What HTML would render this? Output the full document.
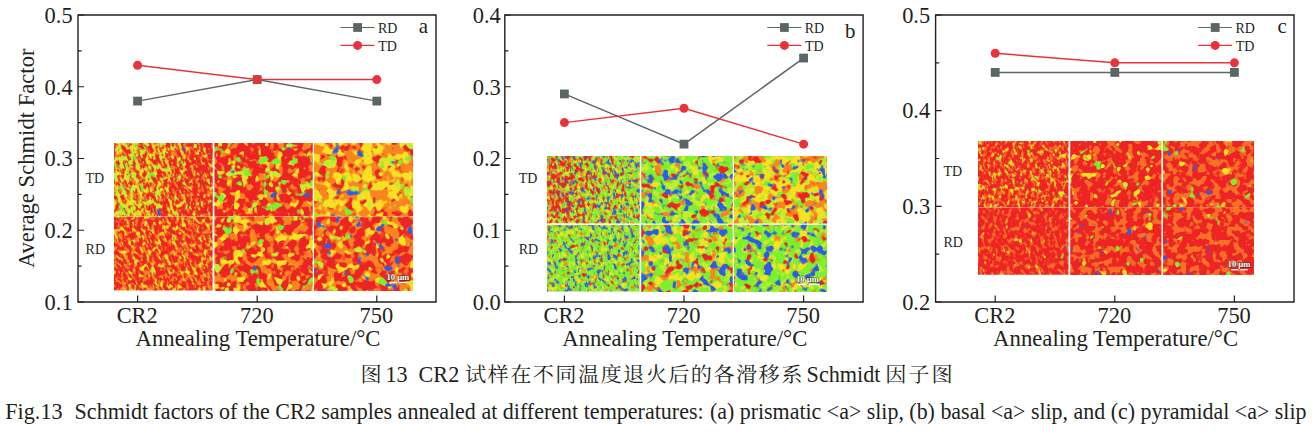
<!DOCTYPE html>
<html lang="zh"><head><meta charset="utf-8"><title>Fig.13 Schmidt factors</title>
<style>
html,body{margin:0;padding:0;background:#fff}
svg{display:block}
text{font-family:"Liberation Serif","Noto Serif CJK SC",serif;fill:#231f20}
.t22{font-size:23.8px}
.t14{font-size:14.8px}
.t21{font-size:21.6px}
.cn{font-size:20.6px}
.cap{font-size:23.5px}
</style></head><body>
<svg width="1313" height="432" viewBox="0 0 1313 432">
<defs>
<filter id="fa000" x="0" y="0" width="1" height="1" color-interpolation-filters="sRGB">
<feTurbulence type="fractalNoise" baseFrequency="0.28 0.16" numOctaves="2" seed="19" result="t0"/>
<feTurbulence type="fractalNoise" baseFrequency="0.168 0.096" numOctaves="2" seed="24" result="t1"/>
<feTurbulence type="fractalNoise" baseFrequency="0.112 0.064" numOctaves="2" seed="29" result="t2"/>
<feFlood flood-color="rgb(238,36,36)" result="b"/>
<feColorMatrix in="t0" type="matrix" values="0 0 0 0 0.980 0 0 0 0 0.518 0 0 0 0 0.125 10 0 0 0 -5.368" result="l0"/>
<feColorMatrix in="t0" type="matrix" values="0 0 0 0 0.965 0 0 0 0 0.886 0 0 0 0 0.133 0 10 0 0 -4.993" result="l1"/>
<feColorMatrix in="t0" type="matrix" values="0 0 0 0 0.745 0 0 0 0 0.933 0 0 0 0 0.173 0 0 10 0 -5.071" result="l2"/>
<feColorMatrix in="t1" type="matrix" values="0 0 0 0 0.486 0 0 0 0 0.941 0 0 0 0 0.180 16.7 0 0 0 -11.142" result="l3"/>
<feColorMatrix in="t2" type="matrix" values="0 0 0 0 0.173 0 0 0 0 0.361 0 0 0 0 0.910 25 0 0 0 -19.956" result="l4"/>
<feMerge result="m"><feMergeNode in="b"/><feMergeNode in="l0"/><feMergeNode in="l1"/><feMergeNode in="l2"/><feMergeNode in="l3"/><feMergeNode in="l4"/></feMerge>
<feGaussianBlur in="m" stdDeviation="0.45" result="g"/>
<feMerge><feMergeNode in="b"/><feMergeNode in="g"/></feMerge>
</filter>
<clipPath id="cpfa000"><rect x="114" y="143" width="98.75" height="73.5"/></clipPath>
<filter id="fa001" x="0" y="0" width="1" height="1" color-interpolation-filters="sRGB">
<feTurbulence type="fractalNoise" baseFrequency="0.28 0.16" numOctaves="2" seed="19" result="t0"/>
<feTurbulence type="fractalNoise" baseFrequency="0.168 0.096" numOctaves="2" seed="24" result="t1"/>
<feTurbulence type="fractalNoise" baseFrequency="0.112 0.064" numOctaves="2" seed="29" result="t2"/>
<feFlood flood-color="rgb(238,36,36)" result="b"/>
<feColorMatrix in="t0" type="matrix" values="0 0 0 0 0.980 0 0 0 0 0.518 0 0 0 0 0.125 10 0 0 0 -5.553" result="l0"/>
<feColorMatrix in="t0" type="matrix" values="0 0 0 0 0.965 0 0 0 0 0.886 0 0 0 0 0.133 0 10 0 0 -5.216" result="l1"/>
<feColorMatrix in="t0" type="matrix" values="0 0 0 0 0.745 0 0 0 0 0.933 0 0 0 0 0.173 0 0 10 0 -5.315" result="l2"/>
<feColorMatrix in="t1" type="matrix" values="0 0 0 0 0.486 0 0 0 0 0.941 0 0 0 0 0.180 16.7 0 0 0 -11.616" result="l3"/>
<feColorMatrix in="t2" type="matrix" values="0 0 0 0 0.173 0 0 0 0 0.361 0 0 0 0 0.910 25 0 0 0 -19.956" result="l4"/>
<feMerge result="m"><feMergeNode in="b"/><feMergeNode in="l0"/><feMergeNode in="l1"/><feMergeNode in="l2"/><feMergeNode in="l3"/><feMergeNode in="l4"/></feMerge>
<feGaussianBlur in="m" stdDeviation="0.45" result="g"/>
<feMerge><feMergeNode in="b"/><feMergeNode in="g"/></feMerge>
</filter>
<clipPath id="cpfa001"><rect x="141.65" y="143" width="71.1" height="73.5"/></clipPath>
<filter id="fa002" x="0" y="0" width="1" height="1" color-interpolation-filters="sRGB">
<feTurbulence type="fractalNoise" baseFrequency="0.28 0.16" numOctaves="2" seed="19" result="t0"/>
<feTurbulence type="fractalNoise" baseFrequency="0.168 0.096" numOctaves="2" seed="24" result="t1"/>
<feTurbulence type="fractalNoise" baseFrequency="0.112 0.064" numOctaves="2" seed="29" result="t2"/>
<feFlood flood-color="rgb(238,36,36)" result="b"/>
<feColorMatrix in="t0" type="matrix" values="0 0 0 0 0.980 0 0 0 0 0.518 0 0 0 0 0.125 10 0 0 0 -5.619" result="l0"/>
<feColorMatrix in="t0" type="matrix" values="0 0 0 0 0.965 0 0 0 0 0.886 0 0 0 0 0.133 0 10 0 0 -5.599" result="l1"/>
<feColorMatrix in="t0" type="matrix" values="0 0 0 0 0.745 0 0 0 0 0.933 0 0 0 0 0.173 0 0 10 0 -5.776" result="l2"/>
<feColorMatrix in="t1" type="matrix" values="0 0 0 0 0.486 0 0 0 0 0.941 0 0 0 0 0.180 16.7 0 0 0 -11.961" result="l3"/>
<feColorMatrix in="t2" type="matrix" values="0 0 0 0 0.173 0 0 0 0 0.361 0 0 0 0 0.910 25 0 0 0 -19.536" result="l4"/>
<feMerge result="m"><feMergeNode in="b"/><feMergeNode in="l0"/><feMergeNode in="l1"/><feMergeNode in="l2"/><feMergeNode in="l3"/><feMergeNode in="l4"/></feMerge>
<feGaussianBlur in="m" stdDeviation="0.45" result="g"/>
<feMerge><feMergeNode in="b"/><feMergeNode in="g"/></feMerge>
</filter>
<clipPath id="cpfa002"><rect x="165.35" y="143" width="47.4" height="73.5"/></clipPath>
<filter id="fa003" x="0" y="0" width="1" height="1" color-interpolation-filters="sRGB">
<feTurbulence type="fractalNoise" baseFrequency="0.28 0.16" numOctaves="2" seed="19" result="t0"/>
<feTurbulence type="fractalNoise" baseFrequency="0.168 0.096" numOctaves="2" seed="24" result="t1"/>
<feTurbulence type="fractalNoise" baseFrequency="0.112 0.064" numOctaves="2" seed="29" result="t2"/>
<feFlood flood-color="rgb(238,36,36)" result="b"/>
<feColorMatrix in="t0" type="matrix" values="0 0 0 0 0.980 0 0 0 0 0.518 0 0 0 0 0.125 10 0 0 0 -5.643" result="l0"/>
<feColorMatrix in="t0" type="matrix" values="0 0 0 0 0.965 0 0 0 0 0.886 0 0 0 0 0.133 0 10 0 0 -5.982" result="l1"/>
<feColorMatrix in="t0" type="matrix" values="0 0 0 0 0.745 0 0 0 0 0.933 0 0 0 0 0.173 0 0 10 0 -6.355" result="l2"/>
<feColorMatrix in="t1" type="matrix" values="0 0 0 0 0.486 0 0 0 0 0.941 0 0 0 0 0.180 16.7 0 0 0 -12.506" result="l3"/>
<feColorMatrix in="t2" type="matrix" values="0 0 0 0 0.173 0 0 0 0 0.361 0 0 0 0 0.910 25 0 0 0 -19.227" result="l4"/>
<feMerge result="m"><feMergeNode in="b"/><feMergeNode in="l0"/><feMergeNode in="l1"/><feMergeNode in="l2"/><feMergeNode in="l3"/><feMergeNode in="l4"/></feMerge>
<feGaussianBlur in="m" stdDeviation="0.45" result="g"/>
<feMerge><feMergeNode in="b"/><feMergeNode in="g"/></feMerge>
</filter>
<clipPath id="cpfa003"><rect x="187.07" y="143" width="25.68" height="73.5"/></clipPath>
<filter id="fa01" x="0" y="0" width="1" height="1" color-interpolation-filters="sRGB">
<feTurbulence type="fractalNoise" baseFrequency="0.12 0.12" numOctaves="2" seed="30" result="t0"/>
<feTurbulence type="fractalNoise" baseFrequency="0.084 0.084" numOctaves="2" seed="35" result="t1"/>
<feTurbulence type="fractalNoise" baseFrequency="0.06 0.06" numOctaves="2" seed="40" result="t2"/>
<feFlood flood-color="rgb(238,36,36)" result="b"/>
<feColorMatrix in="t0" type="matrix" values="0 0 0 0 0.980 0 0 0 0 0.518 0 0 0 0 0.125 10 0 0 0 -5.378" result="l0"/>
<feColorMatrix in="t0" type="matrix" values="0 0 0 0 0.965 0 0 0 0 0.886 0 0 0 0 0.133 0 10 0 0 -5.945" result="l1"/>
<feColorMatrix in="t1" type="matrix" values="0 0 0 0 0.745 0 0 0 0 0.933 0 0 0 0 0.173 14.3 0 0 0 -9.407" result="l2"/>
<feColorMatrix in="t1" type="matrix" values="0 0 0 0 0.486 0 0 0 0 0.941 0 0 0 0 0.180 0 14.3 0 0 -9.305" result="l3"/>
<feColorMatrix in="t2" type="matrix" values="0 0 0 0 0.173 0 0 0 0 0.361 0 0 0 0 0.910 20 0 0 0 -14.708" result="l4"/>
<feMerge result="m"><feMergeNode in="b"/><feMergeNode in="l0"/><feMergeNode in="l1"/><feMergeNode in="l2"/><feMergeNode in="l3"/><feMergeNode in="l4"/></feMerge>
<feGaussianBlur in="m" stdDeviation="0.45" result="g"/>
<feMerge><feMergeNode in="b"/><feMergeNode in="g"/></feMerge>
</filter>
<filter id="fa02" x="0" y="0" width="1" height="1" color-interpolation-filters="sRGB">
<feTurbulence type="fractalNoise" baseFrequency="0.11 0.11" numOctaves="2" seed="41" result="t0"/>
<feTurbulence type="fractalNoise" baseFrequency="0.077 0.077" numOctaves="2" seed="46" result="t1"/>
<feTurbulence type="fractalNoise" baseFrequency="0.055 0.055" numOctaves="2" seed="51" result="t2"/>
<feFlood flood-color="rgb(250,132,32)" result="b"/>
<feColorMatrix in="t0" type="matrix" values="0 0 0 0 0.933 0 0 0 0 0.141 0 0 0 0 0.141 10 0 0 0 -5.232" result="l0"/>
<feColorMatrix in="t0" type="matrix" values="0 0 0 0 0.965 0 0 0 0 0.886 0 0 0 0 0.133 0 10 0 0 -4.600" result="l1"/>
<feColorMatrix in="t1" type="matrix" values="0 0 0 0 0.745 0 0 0 0 0.933 0 0 0 0 0.173 14.3 0 0 0 -9.605" result="l2"/>
<feColorMatrix in="t1" type="matrix" values="0 0 0 0 0.486 0 0 0 0 0.941 0 0 0 0 0.180 0 14.3 0 0 -9.638" result="l3"/>
<feColorMatrix in="t2" type="matrix" values="0 0 0 0 0.173 0 0 0 0 0.361 0 0 0 0 0.910 20 0 0 0 -14.429" result="l4"/>
<feMerge result="m"><feMergeNode in="b"/><feMergeNode in="l0"/><feMergeNode in="l1"/><feMergeNode in="l2"/><feMergeNode in="l3"/><feMergeNode in="l4"/></feMerge>
<feGaussianBlur in="m" stdDeviation="0.45" result="g"/>
<feMerge><feMergeNode in="b"/><feMergeNode in="g"/></feMerge>
</filter>
<filter id="fa10" x="0" y="0" width="1" height="1" color-interpolation-filters="sRGB">
<feTurbulence type="fractalNoise" baseFrequency="0.3 0.18" numOctaves="2" seed="52" result="t0"/>
<feTurbulence type="fractalNoise" baseFrequency="0.21 0.126" numOctaves="2" seed="57" result="t1"/>
<feFlood flood-color="rgb(238,36,36)" result="b"/>
<feColorMatrix in="t0" type="matrix" values="0 0 0 0 0.980 0 0 0 0 0.518 0 0 0 0 0.125 10 0 0 0 -5.251" result="l0"/>
<feColorMatrix in="t0" type="matrix" values="0 0 0 0 0.965 0 0 0 0 0.886 0 0 0 0 0.133 0 10 0 0 -5.573" result="l1"/>
<feColorMatrix in="t1" type="matrix" values="0 0 0 0 0.745 0 0 0 0 0.933 0 0 0 0 0.173 14.3 0 0 0 -9.877" result="l2"/>
<feMerge result="m"><feMergeNode in="b"/><feMergeNode in="l0"/><feMergeNode in="l1"/><feMergeNode in="l2"/></feMerge>
<feGaussianBlur in="m" stdDeviation="0.45" result="g"/>
<feMerge><feMergeNode in="b"/><feMergeNode in="g"/></feMerge>
</filter>
<clipPath id="cpfa10"><rect x="114" y="216.5" width="98.75" height="74.1"/></clipPath>
<filter id="fa11" x="0" y="0" width="1" height="1" color-interpolation-filters="sRGB">
<feTurbulence type="fractalNoise" baseFrequency="0.12 0.12" numOctaves="2" seed="63" result="t0"/>
<feTurbulence type="fractalNoise" baseFrequency="0.084 0.084" numOctaves="2" seed="68" result="t1"/>
<feTurbulence type="fractalNoise" baseFrequency="0.072 0.072" numOctaves="2" seed="73" result="t2"/>
<feTurbulence type="fractalNoise" baseFrequency="0.06 0.06" numOctaves="2" seed="78" result="t3"/>
<feFlood flood-color="rgb(238,36,36)" result="b"/>
<feColorMatrix in="t0" type="matrix" values="0 0 0 0 0.980 0 0 0 0 0.518 0 0 0 0 0.125 10 0 0 0 -5.009" result="l0"/>
<feColorMatrix in="t0" type="matrix" values="0 0 0 0 0.965 0 0 0 0 0.886 0 0 0 0 0.133 0 10 0 0 -5.572" result="l1"/>
<feColorMatrix in="t1" type="matrix" values="0 0 0 0 0.745 0 0 0 0 0.933 0 0 0 0 0.173 14.3 0 0 0 -9.617" result="l2"/>
<feColorMatrix in="t2" type="matrix" values="0 0 0 0 0.486 0 0 0 0 0.941 0 0 0 0 0.180 16.7 0 0 0 -11.606" result="l3"/>
<feColorMatrix in="t3" type="matrix" values="0 0 0 0 0.173 0 0 0 0 0.361 0 0 0 0 0.910 20 0 0 0 -14.708" result="l4"/>
<feMerge result="m"><feMergeNode in="b"/><feMergeNode in="l0"/><feMergeNode in="l1"/><feMergeNode in="l2"/><feMergeNode in="l3"/><feMergeNode in="l4"/></feMerge>
<feGaussianBlur in="m" stdDeviation="0.45" result="g"/>
<feMerge><feMergeNode in="b"/><feMergeNode in="g"/></feMerge>
</filter>
<filter id="fa12" x="0" y="0" width="1" height="1" color-interpolation-filters="sRGB">
<feTurbulence type="fractalNoise" baseFrequency="0.11 0.11" numOctaves="2" seed="74" result="t0"/>
<feTurbulence type="fractalNoise" baseFrequency="0.077 0.077" numOctaves="2" seed="79" result="t1"/>
<feTurbulence type="fractalNoise" baseFrequency="0.066 0.066" numOctaves="2" seed="84" result="t2"/>
<feTurbulence type="fractalNoise" baseFrequency="0.099 0.099" numOctaves="2" seed="89" result="t3"/>
<feFlood flood-color="rgb(238,36,36)" result="b"/>
<feColorMatrix in="t0" type="matrix" values="0 0 0 0 0.980 0 0 0 0 0.518 0 0 0 0 0.125 10 0 0 0 -4.765" result="l0"/>
<feColorMatrix in="t0" type="matrix" values="0 0 0 0 0.965 0 0 0 0 0.886 0 0 0 0 0.133 0 10 0 0 -5.965" result="l1"/>
<feColorMatrix in="t1" type="matrix" values="0 0 0 0 0.745 0 0 0 0 0.933 0 0 0 0 0.173 14.3 0 0 0 -9.822" result="l2"/>
<feColorMatrix in="t2" type="matrix" values="0 0 0 0 0.486 0 0 0 0 0.941 0 0 0 0 0.180 16.7 0 0 0 -11.583" result="l3"/>
<feColorMatrix in="t3" type="matrix" values="0 0 0 0 0.173 0 0 0 0 0.361 0 0 0 0 0.910 11.1 0 0 0 -7.382" result="l4"/>
<feMerge result="m"><feMergeNode in="b"/><feMergeNode in="l0"/><feMergeNode in="l1"/><feMergeNode in="l2"/><feMergeNode in="l3"/><feMergeNode in="l4"/></feMerge>
<feGaussianBlur in="m" stdDeviation="0.45" result="g"/>
<feMerge><feMergeNode in="b"/><feMergeNode in="g"/></feMerge>
</filter>
<filter id="fb000" x="0" y="0" width="1" height="1" color-interpolation-filters="sRGB">
<feTurbulence type="fractalNoise" baseFrequency="0.28 0.2" numOctaves="2" seed="85" result="t0"/>
<feTurbulence type="fractalNoise" baseFrequency="0.28 0.2" numOctaves="2" seed="90" result="t1"/>
<feFlood flood-color="rgb(124,240,46)" result="b"/>
<feColorMatrix in="t0" type="matrix" values="0 0 0 0 0.745 0 0 0 0 0.933 0 0 0 0 0.173 10 0 0 0 -5.179" result="l0"/>
<feColorMatrix in="t0" type="matrix" values="0 0 0 0 0.965 0 0 0 0 0.886 0 0 0 0 0.133 0 10 0 0 -5.260" result="l1"/>
<feColorMatrix in="t0" type="matrix" values="0 0 0 0 0.980 0 0 0 0 0.518 0 0 0 0 0.125 0 0 10 0 -5.348" result="l2"/>
<feColorMatrix in="t0" type="matrix" values="0 0 0 0 0.933 0 0 0 0 0.141 0 0 0 0 0.141 0 0 0 10 -4.579" result="l3"/>
<feColorMatrix in="t1" type="matrix" values="0 0 0 0 0.173 0 0 0 0 0.361 0 0 0 0 0.910 10 0 0 0 -6.474" result="l4"/>
<feMerge result="m"><feMergeNode in="b"/><feMergeNode in="l0"/><feMergeNode in="l1"/><feMergeNode in="l2"/><feMergeNode in="l3"/><feMergeNode in="l4"/></feMerge>
<feGaussianBlur in="m" stdDeviation="0.45" result="g"/>
<feMerge><feMergeNode in="b"/><feMergeNode in="g"/></feMerge>
</filter>
<clipPath id="cpfb000"><rect x="546.9" y="156" width="92.85" height="67.5"/></clipPath>
<filter id="fb001" x="0" y="0" width="1" height="1" color-interpolation-filters="sRGB">
<feTurbulence type="fractalNoise" baseFrequency="0.28 0.2" numOctaves="2" seed="85" result="t0"/>
<feTurbulence type="fractalNoise" baseFrequency="0.28 0.2" numOctaves="2" seed="90" result="t1"/>
<feFlood flood-color="rgb(124,240,46)" result="b"/>
<feColorMatrix in="t0" type="matrix" values="0 0 0 0 0.745 0 0 0 0 0.933 0 0 0 0 0.173 10 0 0 0 -5.260" result="l0"/>
<feColorMatrix in="t0" type="matrix" values="0 0 0 0 0.965 0 0 0 0 0.886 0 0 0 0 0.133 0 10 0 0 -5.348" result="l1"/>
<feColorMatrix in="t0" type="matrix" values="0 0 0 0 0.980 0 0 0 0 0.518 0 0 0 0 0.125 0 0 10 0 -5.538" result="l2"/>
<feColorMatrix in="t0" type="matrix" values="0 0 0 0 0.933 0 0 0 0 0.141 0 0 0 0 0.141 0 0 0 10 -5.041" result="l3"/>
<feColorMatrix in="t1" type="matrix" values="0 0 0 0 0.173 0 0 0 0 0.361 0 0 0 0 0.910 10 0 0 0 -6.186" result="l4"/>
<feMerge result="m"><feMergeNode in="b"/><feMergeNode in="l0"/><feMergeNode in="l1"/><feMergeNode in="l2"/><feMergeNode in="l3"/><feMergeNode in="l4"/></feMerge>
<feGaussianBlur in="m" stdDeviation="0.45" result="g"/>
<feMerge><feMergeNode in="b"/><feMergeNode in="g"/></feMerge>
</filter>
<clipPath id="cpfb001"><rect x="572.9" y="156" width="66.85" height="67.5"/></clipPath>
<filter id="fb002" x="0" y="0" width="1" height="1" color-interpolation-filters="sRGB">
<feTurbulence type="fractalNoise" baseFrequency="0.28 0.2" numOctaves="2" seed="85" result="t0"/>
<feTurbulence type="fractalNoise" baseFrequency="0.28 0.2" numOctaves="2" seed="90" result="t1"/>
<feFlood flood-color="rgb(124,240,46)" result="b"/>
<feColorMatrix in="t0" type="matrix" values="0 0 0 0 0.745 0 0 0 0 0.933 0 0 0 0 0.173 10 0 0 0 -5.269" result="l0"/>
<feColorMatrix in="t0" type="matrix" values="0 0 0 0 0.965 0 0 0 0 0.886 0 0 0 0 0.133 0 10 0 0 -5.373" result="l1"/>
<feColorMatrix in="t0" type="matrix" values="0 0 0 0 0.980 0 0 0 0 0.518 0 0 0 0 0.125 0 0 10 0 -5.781" result="l2"/>
<feColorMatrix in="t0" type="matrix" values="0 0 0 0 0.933 0 0 0 0 0.141 0 0 0 0 0.141 0 0 0 10 -5.491" result="l3"/>
<feColorMatrix in="t1" type="matrix" values="0 0 0 0 0.173 0 0 0 0 0.361 0 0 0 0 0.910 10 0 0 0 -5.910" result="l4"/>
<feMerge result="m"><feMergeNode in="b"/><feMergeNode in="l0"/><feMergeNode in="l1"/><feMergeNode in="l2"/><feMergeNode in="l3"/><feMergeNode in="l4"/></feMerge>
<feGaussianBlur in="m" stdDeviation="0.45" result="g"/>
<feMerge><feMergeNode in="b"/><feMergeNode in="g"/></feMerge>
</filter>
<clipPath id="cpfb002"><rect x="595.18" y="156" width="44.57" height="67.5"/></clipPath>
<filter id="fb003" x="0" y="0" width="1" height="1" color-interpolation-filters="sRGB">
<feTurbulence type="fractalNoise" baseFrequency="0.28 0.2" numOctaves="2" seed="85" result="t0"/>
<feTurbulence type="fractalNoise" baseFrequency="0.28 0.2" numOctaves="2" seed="90" result="t1"/>
<feFlood flood-color="rgb(124,240,46)" result="b"/>
<feColorMatrix in="t0" type="matrix" values="0 0 0 0 0.745 0 0 0 0 0.933 0 0 0 0 0.173 10 0 0 0 -5.275" result="l0"/>
<feColorMatrix in="t0" type="matrix" values="0 0 0 0 0.965 0 0 0 0 0.886 0 0 0 0 0.133 0 10 0 0 -5.485" result="l1"/>
<feColorMatrix in="t0" type="matrix" values="0 0 0 0 0.980 0 0 0 0 0.518 0 0 0 0 0.125 0 0 10 0 -6.003" result="l2"/>
<feColorMatrix in="t0" type="matrix" values="0 0 0 0 0.933 0 0 0 0 0.141 0 0 0 0 0.141 0 0 0 10 -5.933" result="l3"/>
<feColorMatrix in="t1" type="matrix" values="0 0 0 0 0.173 0 0 0 0 0.361 0 0 0 0 0.910 10 0 0 0 -5.796" result="l4"/>
<feMerge result="m"><feMergeNode in="b"/><feMergeNode in="l0"/><feMergeNode in="l1"/><feMergeNode in="l2"/><feMergeNode in="l3"/><feMergeNode in="l4"/></feMerge>
<feGaussianBlur in="m" stdDeviation="0.45" result="g"/>
<feMerge><feMergeNode in="b"/><feMergeNode in="g"/></feMerge>
</filter>
<clipPath id="cpfb003"><rect x="619.32" y="156" width="20.43" height="67.5"/></clipPath>
<filter id="fb01" x="0" y="0" width="1" height="1" color-interpolation-filters="sRGB">
<feTurbulence type="fractalNoise" baseFrequency="0.11 0.11" numOctaves="2" seed="96" result="t0"/>
<feTurbulence type="fractalNoise" baseFrequency="0.127 0.127" numOctaves="2" seed="101" result="t1"/>
<feFlood flood-color="rgb(124,240,46)" result="b"/>
<feColorMatrix in="t0" type="matrix" values="0 0 0 0 0.745 0 0 0 0 0.933 0 0 0 0 0.173 10 0 0 0 -5.112" result="l0"/>
<feColorMatrix in="t0" type="matrix" values="0 0 0 0 0.965 0 0 0 0 0.886 0 0 0 0 0.133 0 10 0 0 -5.914" result="l1"/>
<feColorMatrix in="t0" type="matrix" values="0 0 0 0 0.980 0 0 0 0 0.518 0 0 0 0 0.125 0 0 10 0 -6.076" result="l2"/>
<feColorMatrix in="t0" type="matrix" values="0 0 0 0 0.933 0 0 0 0 0.141 0 0 0 0 0.141 0 0 0 10 -5.982" result="l3"/>
<feColorMatrix in="t1" type="matrix" values="0 0 0 0 0.173 0 0 0 0 0.361 0 0 0 0 0.910 8.7 0 0 0 -4.846" result="l4"/>
<feMerge result="m"><feMergeNode in="b"/><feMergeNode in="l0"/><feMergeNode in="l1"/><feMergeNode in="l2"/><feMergeNode in="l3"/><feMergeNode in="l4"/></feMerge>
<feGaussianBlur in="m" stdDeviation="0.45" result="g"/>
<feMerge><feMergeNode in="b"/><feMergeNode in="g"/></feMerge>
</filter>
<filter id="fb02" x="0" y="0" width="1" height="1" color-interpolation-filters="sRGB">
<feTurbulence type="fractalNoise" baseFrequency="0.11 0.11" numOctaves="2" seed="107" result="t0"/>
<feTurbulence type="fractalNoise" baseFrequency="0.127 0.127" numOctaves="2" seed="112" result="t1"/>
<feFlood flood-color="rgb(124,240,46)" result="b"/>
<feColorMatrix in="t0" type="matrix" values="0 0 0 0 0.745 0 0 0 0 0.933 0 0 0 0 0.173 10 0 0 0 -4.065" result="l0"/>
<feColorMatrix in="t0" type="matrix" values="0 0 0 0 0.965 0 0 0 0 0.886 0 0 0 0 0.133 0 10 0 0 -4.358" result="l1"/>
<feColorMatrix in="t0" type="matrix" values="0 0 0 0 0.980 0 0 0 0 0.518 0 0 0 0 0.125 0 0 10 0 -5.223" result="l2"/>
<feColorMatrix in="t0" type="matrix" values="0 0 0 0 0.933 0 0 0 0 0.141 0 0 0 0 0.141 0 0 0 10 -5.753" result="l3"/>
<feColorMatrix in="t1" type="matrix" values="0 0 0 0 0.173 0 0 0 0 0.361 0 0 0 0 0.910 8.7 0 0 0 -5.519" result="l4"/>
<feMerge result="m"><feMergeNode in="b"/><feMergeNode in="l0"/><feMergeNode in="l1"/><feMergeNode in="l2"/><feMergeNode in="l3"/><feMergeNode in="l4"/></feMerge>
<feGaussianBlur in="m" stdDeviation="0.45" result="g"/>
<feMerge><feMergeNode in="b"/><feMergeNode in="g"/></feMerge>
</filter>
<filter id="fb10" x="0" y="0" width="1" height="1" color-interpolation-filters="sRGB">
<feTurbulence type="fractalNoise" baseFrequency="0.28 0.2" numOctaves="2" seed="118" result="t0"/>
<feTurbulence type="fractalNoise" baseFrequency="0.28 0.2" numOctaves="2" seed="123" result="t1"/>
<feFlood flood-color="rgb(124,240,46)" result="b"/>
<feColorMatrix in="t0" type="matrix" values="0 0 0 0 0.745 0 0 0 0 0.933 0 0 0 0 0.173 10 0 0 0 -5.411" result="l0"/>
<feColorMatrix in="t0" type="matrix" values="0 0 0 0 0.965 0 0 0 0 0.886 0 0 0 0 0.133 0 10 0 0 -5.852" result="l1"/>
<feColorMatrix in="t0" type="matrix" values="0 0 0 0 0.980 0 0 0 0 0.518 0 0 0 0 0.125 0 0 10 0 -6.251" result="l2"/>
<feColorMatrix in="t0" type="matrix" values="0 0 0 0 0.933 0 0 0 0 0.141 0 0 0 0 0.141 0 0 0 10 -6.398" result="l3"/>
<feColorMatrix in="t1" type="matrix" values="0 0 0 0 0.173 0 0 0 0 0.361 0 0 0 0 0.910 10 0 0 0 -5.910" result="l4"/>
<feMerge result="m"><feMergeNode in="b"/><feMergeNode in="l0"/><feMergeNode in="l1"/><feMergeNode in="l2"/><feMergeNode in="l3"/><feMergeNode in="l4"/></feMerge>
<feGaussianBlur in="m" stdDeviation="0.45" result="g"/>
<feMerge><feMergeNode in="b"/><feMergeNode in="g"/></feMerge>
</filter>
<clipPath id="cpfb10"><rect x="546.9" y="224.75" width="92.85" height="66.75"/></clipPath>
<filter id="fb11" x="0" y="0" width="1" height="1" color-interpolation-filters="sRGB">
<feTurbulence type="fractalNoise" baseFrequency="0.11 0.11" numOctaves="2" seed="129" result="t0"/>
<feTurbulence type="fractalNoise" baseFrequency="0.11 0.11" numOctaves="2" seed="134" result="t1"/>
<feFlood flood-color="rgb(124,240,46)" result="b"/>
<feColorMatrix in="t0" type="matrix" values="0 0 0 0 0.745 0 0 0 0 0.933 0 0 0 0 0.173 10 0 0 0 -5.377" result="l0"/>
<feColorMatrix in="t0" type="matrix" values="0 0 0 0 0.965 0 0 0 0 0.886 0 0 0 0 0.133 0 10 0 0 -5.070" result="l1"/>
<feColorMatrix in="t0" type="matrix" values="0 0 0 0 0.980 0 0 0 0 0.518 0 0 0 0 0.125 0 0 10 0 -5.693" result="l2"/>
<feColorMatrix in="t0" type="matrix" values="0 0 0 0 0.933 0 0 0 0 0.141 0 0 0 0 0.141 0 0 0 10 -5.864" result="l3"/>
<feColorMatrix in="t1" type="matrix" values="0 0 0 0 0.173 0 0 0 0 0.361 0 0 0 0 0.910 10 0 0 0 -5.796" result="l4"/>
<feMerge result="m"><feMergeNode in="b"/><feMergeNode in="l0"/><feMergeNode in="l1"/><feMergeNode in="l2"/><feMergeNode in="l3"/><feMergeNode in="l4"/></feMerge>
<feGaussianBlur in="m" stdDeviation="0.45" result="g"/>
<feMerge><feMergeNode in="b"/><feMergeNode in="g"/></feMerge>
</filter>
<filter id="fb12" x="0" y="0" width="1" height="1" color-interpolation-filters="sRGB">
<feTurbulence type="fractalNoise" baseFrequency="0.11 0.11" numOctaves="2" seed="140" result="t0"/>
<feTurbulence type="fractalNoise" baseFrequency="0.11 0.11" numOctaves="2" seed="145" result="t1"/>
<feFlood flood-color="rgb(124,240,46)" result="b"/>
<feColorMatrix in="t0" type="matrix" values="0 0 0 0 0.745 0 0 0 0 0.933 0 0 0 0 0.173 10 0 0 0 -5.466" result="l0"/>
<feColorMatrix in="t0" type="matrix" values="0 0 0 0 0.965 0 0 0 0 0.886 0 0 0 0 0.133 0 10 0 0 -5.475" result="l1"/>
<feColorMatrix in="t0" type="matrix" values="0 0 0 0 0.980 0 0 0 0 0.518 0 0 0 0 0.125 0 0 10 0 -6.318" result="l2"/>
<feColorMatrix in="t0" type="matrix" values="0 0 0 0 0.933 0 0 0 0 0.141 0 0 0 0 0.141 0 0 0 10 -6.481" result="l3"/>
<feColorMatrix in="t1" type="matrix" values="0 0 0 0 0.173 0 0 0 0 0.361 0 0 0 0 0.910 10 0 0 0 -5.553" result="l4"/>
<feMerge result="m"><feMergeNode in="b"/><feMergeNode in="l0"/><feMergeNode in="l1"/><feMergeNode in="l2"/><feMergeNode in="l3"/><feMergeNode in="l4"/></feMerge>
<feGaussianBlur in="m" stdDeviation="0.45" result="g"/>
<feMerge><feMergeNode in="b"/><feMergeNode in="g"/></feMerge>
</filter>
<filter id="fc00" x="0" y="0" width="1" height="1" color-interpolation-filters="sRGB">
<feTurbulence type="fractalNoise" baseFrequency="0.3 0.2" numOctaves="2" seed="151" result="t0"/>
<feTurbulence type="fractalNoise" baseFrequency="0.21 0.14" numOctaves="2" seed="156" result="t1"/>
<feTurbulence type="fractalNoise" baseFrequency="0.15 0.1" numOctaves="2" seed="161" result="t2"/>
<feFlood flood-color="rgb(238,36,36)" result="b"/>
<feColorMatrix in="t0" type="matrix" values="0 0 0 0 0.973 0 0 0 0 0.439 0 0 0 0 0.149 10 0 0 0 -5.344" result="l0"/>
<feColorMatrix in="t0" type="matrix" values="0 0 0 0 0.965 0 0 0 0 0.886 0 0 0 0 0.133 0 10 0 0 -5.873" result="l1"/>
<feColorMatrix in="t1" type="matrix" values="0 0 0 0 0.745 0 0 0 0 0.933 0 0 0 0 0.173 14.3 0 0 0 -9.646" result="l2"/>
<feColorMatrix in="t2" type="matrix" values="0 0 0 0 0.486 0 0 0 0 0.941 0 0 0 0 0.180 20 0 0 0 -15.083" result="l3"/>
<feMerge result="m"><feMergeNode in="b"/><feMergeNode in="l0"/><feMergeNode in="l1"/><feMergeNode in="l2"/><feMergeNode in="l3"/></feMerge>
<feGaussianBlur in="m" stdDeviation="0.45" result="g"/>
<feMerge><feMergeNode in="b"/><feMergeNode in="g"/></feMerge>
</filter>
<clipPath id="cpfc00"><rect x="978" y="141" width="90.75" height="66.5"/></clipPath>
<filter id="fc01" x="0" y="0" width="1" height="1" color-interpolation-filters="sRGB">
<feTurbulence type="fractalNoise" baseFrequency="0.15 0.15" numOctaves="2" seed="162" result="t0"/>
<feTurbulence type="fractalNoise" baseFrequency="0.105 0.105" numOctaves="2" seed="167" result="t1"/>
<feTurbulence type="fractalNoise" baseFrequency="0.09 0.09" numOctaves="2" seed="172" result="t2"/>
<feTurbulence type="fractalNoise" baseFrequency="0.075 0.075" numOctaves="2" seed="177" result="t3"/>
<feFlood flood-color="rgb(238,36,36)" result="b"/>
<feColorMatrix in="t0" type="matrix" values="0 0 0 0 0.973 0 0 0 0 0.439 0 0 0 0 0.149 10 0 0 0 -5.248" result="l0"/>
<feColorMatrix in="t1" type="matrix" values="0 0 0 0 0.965 0 0 0 0 0.886 0 0 0 0 0.133 14.3 0 0 0 -9.430" result="l1"/>
<feColorMatrix in="t2" type="matrix" values="0 0 0 0 0.745 0 0 0 0 0.933 0 0 0 0 0.173 16.7 0 0 0 -11.601" result="l2"/>
<feColorMatrix in="t3" type="matrix" values="0 0 0 0 0.486 0 0 0 0 0.941 0 0 0 0 0.180 20 0 0 0 -14.429" result="l3"/>
<feMerge result="m"><feMergeNode in="b"/><feMergeNode in="l0"/><feMergeNode in="l1"/><feMergeNode in="l2"/><feMergeNode in="l3"/></feMerge>
<feGaussianBlur in="m" stdDeviation="0.45" result="g"/>
<feMerge><feMergeNode in="b"/><feMergeNode in="g"/></feMerge>
</filter>
<filter id="fc02" x="0" y="0" width="1" height="1" color-interpolation-filters="sRGB">
<feTurbulence type="fractalNoise" baseFrequency="0.15 0.15" numOctaves="2" seed="173" result="t0"/>
<feTurbulence type="fractalNoise" baseFrequency="0.09 0.09" numOctaves="2" seed="178" result="t1"/>
<feTurbulence type="fractalNoise" baseFrequency="0.075 0.075" numOctaves="2" seed="183" result="t2"/>
<feFlood flood-color="rgb(238,36,36)" result="b"/>
<feColorMatrix in="t0" type="matrix" values="0 0 0 0 0.973 0 0 0 0 0.439 0 0 0 0 0.149 10 0 0 0 -4.788" result="l0"/>
<feColorMatrix in="t1" type="matrix" values="0 0 0 0 0.965 0 0 0 0 0.886 0 0 0 0 0.133 16.7 0 0 0 -11.590" result="l1"/>
<feColorMatrix in="t2" type="matrix" values="0 0 0 0 0.486 0 0 0 0 0.941 0 0 0 0 0.180 20 0 0 0 -14.417" result="l2"/>
<feColorMatrix in="t2" type="matrix" values="0 0 0 0 0.173 0 0 0 0 0.361 0 0 0 0 0.910 0 20 0 0 -14.917" result="l3"/>
<feMerge result="m"><feMergeNode in="b"/><feMergeNode in="l0"/><feMergeNode in="l1"/><feMergeNode in="l2"/><feMergeNode in="l3"/></feMerge>
<feGaussianBlur in="m" stdDeviation="0.45" result="g"/>
<feMerge><feMergeNode in="b"/><feMergeNode in="g"/></feMerge>
</filter>
<filter id="fc10" x="0" y="0" width="1" height="1" color-interpolation-filters="sRGB">
<feTurbulence type="fractalNoise" baseFrequency="0.3 0.2" numOctaves="2" seed="184" result="t0"/>
<feTurbulence type="fractalNoise" baseFrequency="0.21 0.14" numOctaves="2" seed="189" result="t1"/>
<feTurbulence type="fractalNoise" baseFrequency="0.15 0.1" numOctaves="2" seed="194" result="t2"/>
<feFlood flood-color="rgb(238,36,36)" result="b"/>
<feColorMatrix in="t0" type="matrix" values="0 0 0 0 0.973 0 0 0 0 0.439 0 0 0 0 0.149 10 0 0 0 -5.391" result="l0"/>
<feColorMatrix in="t1" type="matrix" values="0 0 0 0 0.965 0 0 0 0 0.886 0 0 0 0 0.133 14.3 0 0 0 -9.871" result="l1"/>
<feColorMatrix in="t2" type="matrix" values="0 0 0 0 0.486 0 0 0 0 0.941 0 0 0 0 0.180 20 0 0 0 -15.679" result="l2"/>
<feColorMatrix in="t2" type="matrix" values="0 0 0 0 0.173 0 0 0 0 0.361 0 0 0 0 0.910 0 20 0 0 -15.865" result="l3"/>
<feMerge result="m"><feMergeNode in="b"/><feMergeNode in="l0"/><feMergeNode in="l1"/><feMergeNode in="l2"/><feMergeNode in="l3"/></feMerge>
<feGaussianBlur in="m" stdDeviation="0.45" result="g"/>
<feMerge><feMergeNode in="b"/><feMergeNode in="g"/></feMerge>
</filter>
<clipPath id="cpfc10"><rect x="978" y="207.5" width="90.75" height="67.25"/></clipPath>
<filter id="fc11" x="0" y="0" width="1" height="1" color-interpolation-filters="sRGB">
<feTurbulence type="fractalNoise" baseFrequency="0.15 0.15" numOctaves="2" seed="195" result="t0"/>
<feTurbulence type="fractalNoise" baseFrequency="0.09 0.09" numOctaves="2" seed="200" result="t1"/>
<feTurbulence type="fractalNoise" baseFrequency="0.105 0.105" numOctaves="2" seed="205" result="t2"/>
<feFlood flood-color="rgb(238,36,36)" result="b"/>
<feColorMatrix in="t0" type="matrix" values="0 0 0 0 0.973 0 0 0 0 0.439 0 0 0 0 0.149 10 0 0 0 -5.079" result="l0"/>
<feColorMatrix in="t1" type="matrix" values="0 0 0 0 0.965 0 0 0 0 0.886 0 0 0 0 0.133 16.7 0 0 0 -11.943" result="l1"/>
<feColorMatrix in="t1" type="matrix" values="0 0 0 0 0.486 0 0 0 0 0.941 0 0 0 0 0.180 0 16.7 0 0 -12.189" result="l2"/>
<feColorMatrix in="t2" type="matrix" values="0 0 0 0 0.173 0 0 0 0 0.361 0 0 0 0 0.910 14.3 0 0 0 -10.523" result="l3"/>
<feMerge result="m"><feMergeNode in="b"/><feMergeNode in="l0"/><feMergeNode in="l1"/><feMergeNode in="l2"/><feMergeNode in="l3"/></feMerge>
<feGaussianBlur in="m" stdDeviation="0.45" result="g"/>
<feMerge><feMergeNode in="b"/><feMergeNode in="g"/></feMerge>
</filter>
<filter id="fc12" x="0" y="0" width="1" height="1" color-interpolation-filters="sRGB">
<feTurbulence type="fractalNoise" baseFrequency="0.15 0.15" numOctaves="2" seed="206" result="t0"/>
<feTurbulence type="fractalNoise" baseFrequency="0.09 0.09" numOctaves="2" seed="211" result="t1"/>
<feTurbulence type="fractalNoise" baseFrequency="0.075 0.075" numOctaves="2" seed="216" result="t2"/>
<feFlood flood-color="rgb(238,36,36)" result="b"/>
<feColorMatrix in="t0" type="matrix" values="0 0 0 0 0.973 0 0 0 0 0.439 0 0 0 0 0.149 10 0 0 0 -5.003" result="l0"/>
<feColorMatrix in="t1" type="matrix" values="0 0 0 0 0.965 0 0 0 0 0.886 0 0 0 0 0.133 16.7 0 0 0 -11.939" result="l1"/>
<feColorMatrix in="t2" type="matrix" values="0 0 0 0 0.486 0 0 0 0 0.941 0 0 0 0 0.180 20 0 0 0 -14.417" result="l2"/>
<feColorMatrix in="t2" type="matrix" values="0 0 0 0 0.173 0 0 0 0 0.361 0 0 0 0 0.910 0 20 0 0 -14.917" result="l3"/>
<feMerge result="m"><feMergeNode in="b"/><feMergeNode in="l0"/><feMergeNode in="l1"/><feMergeNode in="l2"/><feMergeNode in="l3"/></feMerge>
<feGaussianBlur in="m" stdDeviation="0.45" result="g"/>
<feMerge><feMergeNode in="b"/><feMergeNode in="g"/></feMerge>
</filter>
</defs>
<rect width="1313" height="432" fill="#fff"/>
<g><g clip-path="url(#cpfa000)"><rect x="89.31" y="105.69" width="148.12" height="148.12" transform="rotate(-20 163.38 179.75)" fill="rgb(238, 36, 36)" filter="url(#fa000)"/></g>
<g clip-path="url(#cpfa001)"><rect x="89.31" y="105.69" width="148.12" height="148.12" transform="rotate(-20 163.38 179.75)" fill="rgb(238, 36, 36)" filter="url(#fa001)"/></g>
<g clip-path="url(#cpfa002)"><rect x="89.31" y="105.69" width="148.12" height="148.12" transform="rotate(-20 163.38 179.75)" fill="rgb(238, 36, 36)" filter="url(#fa002)"/></g>
<g clip-path="url(#cpfa003)"><rect x="89.31" y="105.69" width="148.12" height="148.12" transform="rotate(-20 163.38 179.75)" fill="rgb(238, 36, 36)" filter="url(#fa003)"/></g>
<rect x="214.4" y="143" width="98.35" height="73.5" fill="rgb(238, 36, 36)" filter="url(#fa01)"/>
<rect x="314" y="143" width="99" height="73.5" fill="rgb(250, 132, 32)" filter="url(#fa02)"/>
<g clip-path="url(#cpfa10)"><rect x="89.31" y="179.49" width="148.12" height="148.12" transform="rotate(-25 163.38 253.55)" fill="rgb(238, 36, 36)" filter="url(#fa10)"/></g>
<rect x="214.4" y="216.5" width="98.35" height="74.1" fill="rgb(238, 36, 36)" filter="url(#fa11)"/>
<rect x="314" y="216.5" width="99" height="74.1" fill="rgb(238, 36, 36)" filter="url(#fa12)"/>
<rect x="212.75" y="142.5" width="1.65" height="148.6" fill="#fff"/>
<rect x="312.75" y="142.5" width="1.25" height="148.6" fill="#fff"/>
<line x1="114" y1="216.5" x2="413" y2="216.5" stroke="#ffd9a8" stroke-width="0.8" opacity="0.6"/>
<line x1="389.4" y1="282.5" x2="406.9" y2="282.5" stroke="#fff" stroke-width="1.3"/>
<text x="397.8" y="280" text-anchor="middle" style="font-size:8.6px;font-weight:bold;fill:#fff;stroke:#2a2a2a;stroke-width:.8px;paint-order:stroke">10 μm</text>
<path d="M78 15H436V302H78Z" fill="none" stroke="#231f20" stroke-width="1.4"/>
<path d="M78 302h6M78 266.12h3.6M78 230.25h6M78 194.38h3.6M78 158.5h6M78 122.63h3.6M78 86.75h6M78 50.87h3.6M78 15h6M137.6 302v-6.5M257.2 302v-6.5M376.8 302v-6.5" fill="none" stroke="#231f20" stroke-width="1.2"/>
<text transform="translate(72.6 309.8) scale(0.943 1)" text-anchor="end" class="t22">0.1</text>
<text transform="translate(72.6 238.05) scale(0.943 1)" text-anchor="end" class="t22">0.2</text>
<text transform="translate(72.6 166.3) scale(0.943 1)" text-anchor="end" class="t22">0.3</text>
<text transform="translate(72.6 94.55) scale(0.943 1)" text-anchor="end" class="t22">0.4</text>
<text transform="translate(72.6 22.8) scale(0.943 1)" text-anchor="end" class="t22">0.5</text>
<text transform="translate(137.2 323.2) scale(0.943 1)" text-anchor="middle" class="t22">CR2</text>
<text transform="translate(256.8 323.2) scale(0.943 1)" text-anchor="middle" class="t22">720</text>
<text transform="translate(376.4 323.2) scale(0.943 1)" text-anchor="middle" class="t22">750</text>
<text transform="translate(258 346.4) scale(0.955 1)" text-anchor="middle" class="t22">Annealing Temperature/°C</text>
<polyline points="137.6,101.1 257.2,79.58 376.8,101.1" fill="none" stroke="#5b6565" stroke-width="1.45"/>
<rect x="133.2" y="96.7" width="8.8" height="8.8" fill="#5b6565"/>
<rect x="252.8" y="75.18" width="8.8" height="8.8" fill="#5b6565"/>
<rect x="372.4" y="96.7" width="8.8" height="8.8" fill="#5b6565"/>
<polyline points="137.6,65.23 257.2,79.58 376.8,79.58" fill="none" stroke="#e8333a" stroke-width="1.45"/>
<circle cx="137.6" cy="65.23" r="4.5" fill="#e8333a"/>
<circle cx="257.2" cy="79.58" r="4.5" fill="#e8333a"/>
<circle cx="376.8" cy="79.58" r="4.5" fill="#e8333a"/>
<path d="M340.5 27.5h34" stroke="#5b6565" stroke-width="1.2"/><rect x="353.2" y="23.1" width="8.8" height="8.8" fill="#5b6565"/>
<path d="M340.5 45.4h34" stroke="#e8333a" stroke-width="1.2"/><circle cx="357.6" cy="45.4" r="4.5" fill="#e8333a"/>
<text transform="translate(377.9 32.7) scale(0.943 1)" class="t14">RD</text><text transform="translate(378.2 50.6) scale(0.943 1)" class="t14">TD</text>
<text transform="translate(423.5 32.75) scale(0.97 1)" text-anchor="middle" class="t21">a</text>
<text transform="translate(85.6 182.5) scale(0.943 1)" class="t14">TD</text>
<text transform="translate(85.6 253.5) scale(0.943 1)" class="t14">RD</text>
<text transform="translate(34 158.3) rotate(-90) scale(0.952 1)" text-anchor="middle" class="t22">Average Schmidt Factor</text></g>
<g><g clip-path="url(#cpfb000)"><rect x="523.69" y="120.11" width="139.28" height="139.28" transform="rotate(-15 593.33 189.75)" fill="rgb(124, 240, 46)" filter="url(#fb000)"/></g>
<g clip-path="url(#cpfb001)"><rect x="523.69" y="120.11" width="139.28" height="139.28" transform="rotate(-15 593.33 189.75)" fill="rgb(124, 240, 46)" filter="url(#fb001)"/></g>
<g clip-path="url(#cpfb002)"><rect x="523.69" y="120.11" width="139.28" height="139.28" transform="rotate(-15 593.33 189.75)" fill="rgb(124, 240, 46)" filter="url(#fb002)"/></g>
<g clip-path="url(#cpfb003)"><rect x="523.69" y="120.11" width="139.28" height="139.28" transform="rotate(-15 593.33 189.75)" fill="rgb(124, 240, 46)" filter="url(#fb003)"/></g>
<rect x="641.25" y="156" width="91.5" height="67.5" fill="rgb(124, 240, 46)" filter="url(#fb01)"/>
<rect x="734" y="156" width="92.9" height="67.5" fill="rgb(124, 240, 46)" filter="url(#fb02)"/>
<g clip-path="url(#cpfb10)"><rect x="523.69" y="188.49" width="139.28" height="139.28" transform="rotate(-15 593.33 258.12)" fill="rgb(124, 240, 46)" filter="url(#fb10)"/></g>
<rect x="641.25" y="224.75" width="91.5" height="66.75" fill="rgb(124, 240, 46)" filter="url(#fb11)"/>
<rect x="734" y="224.75" width="92.9" height="66.75" fill="rgb(124, 240, 46)" filter="url(#fb12)"/>
<rect x="639.75" y="155.5" width="1.5" height="136.5" fill="#fff"/>
<rect x="732.75" y="155.5" width="1.25" height="136.5" fill="#fff"/>
<rect x="546.9" y="223.5" width="280" height="1.25" fill="#fff"/>
<line x1="797.25" y1="284.4" x2="819.75" y2="284.4" stroke="#fff" stroke-width="1.3"/>
<text x="807.5" y="282.3" text-anchor="middle" style="font-size:8.6px;font-weight:bold;fill:#fff;stroke:#2a2a2a;stroke-width:.8px;paint-order:stroke">10 μm</text>
<path d="M504.8 15H863.1V302H504.8Z" fill="none" stroke="#231f20" stroke-width="1.4"/>
<path d="M504.8 302h6M504.8 266.12h3.6M504.8 230.25h6M504.8 194.38h3.6M504.8 158.5h6M504.8 122.62h3.6M504.8 86.75h6M504.8 50.88h3.6M504.8 15h6M564.4 302v-6.5M684 302v-6.5M803.6 302v-6.5" fill="none" stroke="#231f20" stroke-width="1.2"/>
<text transform="translate(500.8 309.8) scale(0.943 1)" text-anchor="end" class="t22">0.0</text>
<text transform="translate(500.8 238.05) scale(0.943 1)" text-anchor="end" class="t22">0.1</text>
<text transform="translate(500.8 166.3) scale(0.943 1)" text-anchor="end" class="t22">0.2</text>
<text transform="translate(500.8 94.55) scale(0.943 1)" text-anchor="end" class="t22">0.3</text>
<text transform="translate(500.8 22.8) scale(0.943 1)" text-anchor="end" class="t22">0.4</text>
<text transform="translate(564 323.2) scale(0.943 1)" text-anchor="middle" class="t22">CR2</text>
<text transform="translate(683.6 323.2) scale(0.943 1)" text-anchor="middle" class="t22">720</text>
<text transform="translate(803.2 323.2) scale(0.943 1)" text-anchor="middle" class="t22">750</text>
<text transform="translate(684.8 346.4) scale(0.955 1)" text-anchor="middle" class="t22">Annealing Temperature/°C</text>
<polyline points="564.4,93.93 684,144.15 803.6,58.05" fill="none" stroke="#5b6565" stroke-width="1.45"/>
<rect x="560" y="89.53" width="8.8" height="8.8" fill="#5b6565"/>
<rect x="679.6" y="139.75" width="8.8" height="8.8" fill="#5b6565"/>
<rect x="799.2" y="53.65" width="8.8" height="8.8" fill="#5b6565"/>
<polyline points="564.4,122.62 684,108.27 803.6,144.15" fill="none" stroke="#e8333a" stroke-width="1.45"/>
<circle cx="564.4" cy="122.62" r="4.5" fill="#e8333a"/>
<circle cx="684" cy="108.27" r="4.5" fill="#e8333a"/>
<circle cx="803.6" cy="144.15" r="4.5" fill="#e8333a"/>
<path d="M767.3 27.5h34" stroke="#5b6565" stroke-width="1.2"/><rect x="780" y="23.1" width="8.8" height="8.8" fill="#5b6565"/>
<path d="M767.3 45.4h34" stroke="#e8333a" stroke-width="1.2"/><circle cx="784.4" cy="45.4" r="4.5" fill="#e8333a"/>
<text transform="translate(804.7 32.7) scale(0.943 1)" class="t14">RD</text><text transform="translate(805 50.6) scale(0.943 1)" class="t14">TD</text>
<text transform="translate(850.3 37.5) scale(0.97 1)" text-anchor="middle" class="t21">b</text>
<text transform="translate(518.75 183) scale(0.943 1)" class="t14">TD</text>
<text transform="translate(518.75 254) scale(0.943 1)" class="t14">RD</text></g>
<g><g clip-path="url(#cpfc00)"><rect x="955.31" y="106.19" width="136.12" height="136.12" transform="rotate(-15 1023.38 174.25)" fill="rgb(238, 36, 36)" filter="url(#fc00)"/></g>
<rect x="1070.25" y="141" width="91.25" height="66.5" fill="rgb(238, 36, 36)" filter="url(#fc01)"/>
<rect x="1163" y="141" width="91" height="66.5" fill="rgb(238, 36, 36)" filter="url(#fc02)"/>
<g clip-path="url(#cpfc10)"><rect x="955.31" y="173.06" width="136.12" height="136.12" transform="rotate(-15 1023.38 241.12)" fill="rgb(238, 36, 36)" filter="url(#fc10)"/></g>
<rect x="1070.25" y="207.5" width="91.25" height="67.25" fill="rgb(238, 36, 36)" filter="url(#fc11)"/>
<rect x="1163" y="207.5" width="91" height="67.25" fill="rgb(238, 36, 36)" filter="url(#fc12)"/>
<rect x="1068.75" y="140.5" width="1.5" height="134.75" fill="#fff"/>
<rect x="1161.5" y="140.5" width="1.5" height="134.75" fill="#fff"/>
<line x1="978" y1="207.5" x2="1254" y2="207.5" stroke="#ffb8a8" stroke-width="0.8" opacity="0.38"/>
<line x1="1231.25" y1="269.75" x2="1247.75" y2="269.75" stroke="#fff" stroke-width="1.3"/>
<text x="1239" y="267.2" text-anchor="middle" style="font-size:8.6px;font-weight:bold;fill:#fff;stroke:#2a2a2a;stroke-width:.8px;paint-order:stroke">10 μm</text>
<path d="M935.6 15H1294V302H935.6Z" fill="none" stroke="#231f20" stroke-width="1.4"/>
<path d="M935.6 302h6M935.6 254.17h3.6M935.6 206.33h6M935.6 158.5h3.6M935.6 110.67h6M935.6 62.83h3.6M935.6 15h6M995.2 302v-6.5M1114.8 302v-6.5M1234.4 302v-6.5" fill="none" stroke="#231f20" stroke-width="1.2"/>
<text transform="translate(930.2 309.8) scale(0.943 1)" text-anchor="end" class="t22">0.2</text>
<text transform="translate(930.2 214.13) scale(0.943 1)" text-anchor="end" class="t22">0.3</text>
<text transform="translate(930.2 118.47) scale(0.943 1)" text-anchor="end" class="t22">0.4</text>
<text transform="translate(930.2 22.8) scale(0.943 1)" text-anchor="end" class="t22">0.5</text>
<text transform="translate(994.8 323.2) scale(0.943 1)" text-anchor="middle" class="t22">CR2</text>
<text transform="translate(1114.4 323.2) scale(0.943 1)" text-anchor="middle" class="t22">720</text>
<text transform="translate(1234 323.2) scale(0.943 1)" text-anchor="middle" class="t22">750</text>
<text transform="translate(1115.6 346.4) scale(0.955 1)" text-anchor="middle" class="t22">Annealing Temperature/°C</text>
<polyline points="995.2,72.4 1114.8,72.4 1234.4,72.4" fill="none" stroke="#5b6565" stroke-width="1.45"/>
<rect x="990.8" y="68" width="8.8" height="8.8" fill="#5b6565"/>
<rect x="1110.4" y="68" width="8.8" height="8.8" fill="#5b6565"/>
<rect x="1230" y="68" width="8.8" height="8.8" fill="#5b6565"/>
<polyline points="995.2,53.27 1114.8,62.83 1234.4,62.83" fill="none" stroke="#e8333a" stroke-width="1.45"/>
<circle cx="995.2" cy="53.27" r="4.5" fill="#e8333a"/>
<circle cx="1114.8" cy="62.83" r="4.5" fill="#e8333a"/>
<circle cx="1234.4" cy="62.83" r="4.5" fill="#e8333a"/>
<path d="M1198.1 27.5h34" stroke="#5b6565" stroke-width="1.2"/><rect x="1210.8" y="23.1" width="8.8" height="8.8" fill="#5b6565"/>
<path d="M1198.1 45.4h34" stroke="#e8333a" stroke-width="1.2"/><circle cx="1215.2" cy="45.4" r="4.5" fill="#e8333a"/>
<text transform="translate(1235.5 32.7) scale(0.943 1)" class="t14">RD</text><text transform="translate(1235.8 50.6) scale(0.943 1)" class="t14">TD</text>
<text transform="translate(1282.1 32.75) scale(0.97 1)" text-anchor="middle" class="t21">c</text>
<text transform="translate(943.5 175.75) scale(0.943 1)" class="t14">TD</text>
<text transform="translate(943.5 246.7) scale(0.943 1)" class="t14">RD</text></g>
<text transform="translate(360.6 382.3) scale(1.03 1)" class="cn" style="font-size:20.6px;letter-spacing:1.34px">图</text><text transform="translate(385.4 382) scale(0.943 1)" class="cap">13</text><text transform="translate(418.6 382) scale(0.943 1)" class="cap">CR2</text><text transform="translate(465 382.3) scale(1.03 1)" class="cn" style="font-size:20.6px;letter-spacing:1.33px">试样在不同温度退火后的各滑移系</text><text transform="translate(806.6 382) scale(0.943 1)" class="cap">Schmidt</text><text transform="translate(885.2 382.3) scale(1.03 1)" class="cn" style="font-size:20.6px;letter-spacing:1.83px">因子图</text>
<text transform="translate(5.3 419) scale(0.943 1)" class="cap">Fig.13</text><text transform="translate(74.6 419) scale(0.9381 1)" class="cap">Schmidt factors of the CR2 samples annealed at different temperatures:</text><text transform="translate(709.9 419) scale(0.9335 1)" class="cap">(a) prismatic &lt;a&gt; slip, (b) basal &lt;a&gt; slip, and (c) pyramidal &lt;a&gt; slip</text>
</svg>
</body></html>
